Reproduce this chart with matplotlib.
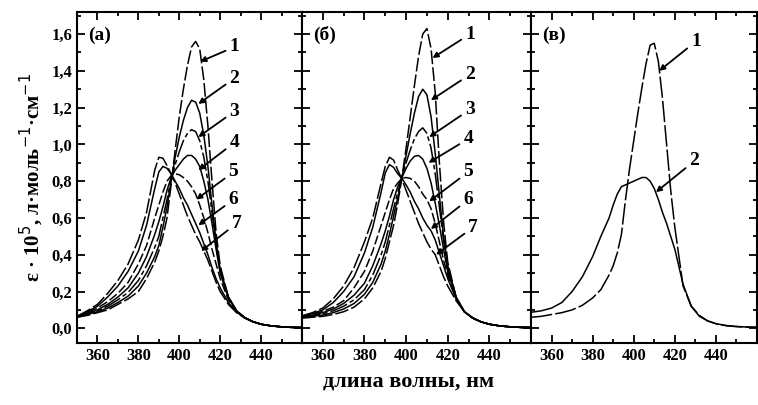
import matplotlib
matplotlib.use("Agg")
import matplotlib.pyplot as plt
from matplotlib.ticker import MultipleLocator, FuncFormatter

plt.rcParams['font.family'] = ['Liberation Serif', 'DejaVu Serif']

# wavelength grid, nm
wl = [350, 355, 360, 365, 370, 375, 380, 384, 388, 390, 392, 394, 396, 398, 400, 402, 404,
      406, 408, 410, 412, 414, 416, 418, 420, 424, 428, 432, 436, 440, 445, 450, 455, 460]

# panel (a), curves 1..7  (epsilon * 1e-5)
a1 = [0.060, 0.070, 0.085, 0.100, 0.130, 0.160, 0.200, 0.270, 0.360, 0.420, 0.500, 0.600, 0.780, 0.970, 1.150, 1.300, 1.430,
      1.530, 1.560, 1.520, 1.350, 1.100, 0.800, 0.520, 0.340, 0.170, 0.095, 0.058, 0.036, 0.022, 0.013, 0.008, 0.005, 0.004]
a2 = [0.060, 0.075, 0.090, 0.110, 0.140, 0.175, 0.230, 0.300, 0.390, 0.450, 0.550, 0.660, 0.800, 0.930, 1.040, 1.130, 1.200,
      1.240, 1.230, 1.170, 1.050, 0.880, 0.670, 0.470, 0.320, 0.170, 0.095, 0.058, 0.036, 0.022, 0.013, 0.008, 0.005, 0.004]
a3 = [0.062, 0.080, 0.095, 0.120, 0.155, 0.195, 0.260, 0.340, 0.440, 0.500, 0.600, 0.700, 0.810, 0.890, 0.960, 1.020, 1.060,
      1.080, 1.070, 1.020, 0.930, 0.800, 0.630, 0.450, 0.310, 0.170, 0.095, 0.058, 0.036, 0.022, 0.013, 0.008, 0.005, 0.004]
a4 = [0.063, 0.083, 0.100, 0.130, 0.170, 0.220, 0.300, 0.390, 0.510, 0.580, 0.660, 0.750, 0.820, 0.860, 0.890, 0.920, 0.940,
      0.940, 0.920, 0.880, 0.800, 0.700, 0.570, 0.430, 0.300, 0.165, 0.095, 0.058, 0.036, 0.022, 0.013, 0.008, 0.005, 0.004]
a5 = [0.064, 0.087, 0.110, 0.145, 0.190, 0.250, 0.350, 0.450, 0.600, 0.670, 0.740, 0.800, 0.830, 0.840, 0.835, 0.820, 0.800,
      0.770, 0.730, 0.670, 0.600, 0.520, 0.430, 0.350, 0.270, 0.155, 0.090, 0.057, 0.036, 0.022, 0.013, 0.008, 0.005, 0.004]
a6 = [0.065, 0.090, 0.120, 0.170, 0.230, 0.310, 0.420, 0.560, 0.760, 0.850, 0.880, 0.870, 0.840, 0.800, 0.760, 0.710, 0.670,
      0.620, 0.570, 0.520, 0.460, 0.400, 0.330, 0.270, 0.220, 0.140, 0.088, 0.057, 0.036, 0.022, 0.013, 0.008, 0.005, 0.004]
a7 = [0.065, 0.095, 0.130, 0.190, 0.260, 0.350, 0.480, 0.630, 0.860, 0.930, 0.925, 0.885, 0.840, 0.790, 0.730, 0.670, 0.610,
      0.560, 0.510, 0.470, 0.420, 0.370, 0.310, 0.250, 0.200, 0.130, 0.085, 0.055, 0.035, 0.022, 0.013, 0.008, 0.005, 0.004]

# panel (б), curves 1..7
b1 = [0.055, 0.060, 0.065, 0.075, 0.090, 0.115, 0.160, 0.220, 0.310, 0.380, 0.470, 0.560, 0.680, 0.820, 0.980, 1.150, 1.320,
      1.480, 1.600, 1.630, 1.520, 1.280, 0.900, 0.580, 0.360, 0.170, 0.090, 0.056, 0.035, 0.022, 0.013, 0.008, 0.005, 0.004]
b2 = [0.058, 0.065, 0.072, 0.085, 0.105, 0.135, 0.185, 0.250, 0.350, 0.420, 0.510, 0.610, 0.710, 0.820, 0.940, 1.060, 1.170,
      1.260, 1.300, 1.270, 1.150, 0.950, 0.720, 0.500, 0.340, 0.170, 0.090, 0.056, 0.035, 0.022, 0.013, 0.008, 0.005, 0.004]
b3 = [0.060, 0.068, 0.078, 0.095, 0.120, 0.155, 0.210, 0.290, 0.400, 0.470, 0.560, 0.650, 0.740, 0.820, 0.900, 0.970, 1.030,
      1.070, 1.090, 1.060, 0.980, 0.840, 0.660, 0.480, 0.330, 0.170, 0.090, 0.056, 0.035, 0.022, 0.013, 0.008, 0.005, 0.004]
b4 = [0.062, 0.072, 0.085, 0.105, 0.135, 0.180, 0.245, 0.340, 0.460, 0.530, 0.610, 0.700, 0.770, 0.820, 0.870, 0.910, 0.935,
      0.940, 0.920, 0.870, 0.790, 0.680, 0.560, 0.430, 0.310, 0.165, 0.090, 0.056, 0.035, 0.022, 0.013, 0.008, 0.005, 0.004]
b5 = [0.064, 0.076, 0.092, 0.115, 0.150, 0.220, 0.310, 0.420, 0.560, 0.630, 0.700, 0.760, 0.790, 0.815, 0.820, 0.815, 0.800,
      0.770, 0.730, 0.700, 0.650, 0.570, 0.470, 0.370, 0.290, 0.160, 0.090, 0.056, 0.035, 0.022, 0.013, 0.008, 0.005, 0.004]
b6 = [0.066, 0.080, 0.100, 0.140, 0.200, 0.280, 0.410, 0.550, 0.740, 0.845, 0.890, 0.875, 0.840, 0.815, 0.780, 0.740, 0.690,
      0.650, 0.600, 0.560, 0.530, 0.480, 0.410, 0.340, 0.270, 0.160, 0.090, 0.056, 0.035, 0.022, 0.013, 0.008, 0.005, 0.004]
b7 = [0.068, 0.085, 0.110, 0.160, 0.230, 0.330, 0.470, 0.600, 0.790, 0.880, 0.930, 0.915, 0.860, 0.810, 0.750, 0.690, 0.630,
      0.570, 0.520, 0.470, 0.430, 0.400, 0.340, 0.280, 0.230, 0.150, 0.090, 0.056, 0.035, 0.022, 0.013, 0.008, 0.005, 0.004]

# panel (в), curves 1..2
c1 = [0.060, 0.065, 0.075, 0.085, 0.100, 0.125, 0.165, 0.210, 0.290, 0.340, 0.410, 0.510, 0.700, 0.870, 1.020, 1.170, 1.310,
      1.440, 1.540, 1.550, 1.450, 1.250, 1.000, 0.750, 0.550, 0.230, 0.120, 0.070, 0.040, 0.025, 0.014, 0.009, 0.006, 0.005]
c2 = [0.087, 0.095, 0.110, 0.140, 0.200, 0.280, 0.390, 0.500, 0.600, 0.670, 0.730, 0.770, 0.780, 0.790, 0.800, 0.810, 0.820,
      0.820, 0.800, 0.760, 0.700, 0.630, 0.570, 0.500, 0.430, 0.240, 0.120, 0.065, 0.040, 0.025, 0.015, 0.010, 0.007, 0.006]

panels = [
    ("(a)", [a1, a2, a3, a4, a5, a6, a7]),
    ("(б)", [b1, b2, b3, b4, b5, b6, b7]),
    ("(в)", [c1, c2]),
]

# curve labels: (text position, arrow tip) in data coords
labels_a = [((424.6, 1.53), (410.2, 1.45)), ((424.6, 1.36), (409.3, 1.22)), ((424.6, 1.18), (409.3, 1.04)),
            ((424.6, 1.01), (409.3, 0.86)), ((424.1, 0.85), (408.3, 0.70)), ((424.1, 0.70), (409.3, 0.56)),
            ((425.6, 0.57), (410.7, 0.42))]
labels_b = [((428.4, 1.60), (412.7, 1.47)), ((428.3, 1.38), (411.9, 1.24)), ((428.3, 1.19), (411.1, 1.04)),
            ((427.5, 1.03), (410.8, 0.90)), ((427.5, 0.85), (411.1, 0.69)), ((427.5, 0.70), (411.9, 0.54)),
            ((429.9, 0.55), (414.4, 0.40))]
labels_c = [((427.9, 1.56), (412.4, 1.40)), ((427.1, 0.91), (410.8, 0.74))]
all_labels = [labels_a, labels_b, labels_c]

styles = [(0, (9, 2)), '-', (0, (12, 2, 3, 2)), '-', (0, (6, 2)), '-', (0, (10, 2))]

fig = plt.figure(figsize=(7.58, 4.05), dpi=100)
lefts = [77, 302, 531]
rights = [302, 531, 757]
bottom, top = 343, 12
W, H = 758, 405

for i, (tag, curves) in enumerate(panels):
    ax = fig.add_axes([lefts[i] / W, 1 - bottom / H, (rights[i] - lefts[i]) / W, (bottom - top) / H])
    for k, y in enumerate(curves):
        ls = styles[k] if i < 2 else ((0, (14, 2)) if k == 0 else '-')
        ax.plot(wl, y, color='black', lw=1.1, ls=ls)

    for k, (txt, tip) in enumerate(all_labels[i]):
        ax.annotate(str(k + 1), xy=tip, xytext=txt, fontsize=14, fontweight='bold',
                    ha='left', va='center',
                    arrowprops=dict(arrowstyle='-|>', color='black', lw=1.3,
                                    mutation_scale=8, shrinkA=1, shrinkB=0))

    ax.text(0.05, 0.93, tag, transform=ax.transAxes, fontsize=14, fontweight='bold',
            ha='left', va='center')

    ax.set_xlim(350, 460)
    ax.set_ylim(-0.08, 1.72)
    ax.xaxis.set_minor_locator(MultipleLocator(10))
    ax.yaxis.set_major_locator(MultipleLocator(0.2))
    ax.yaxis.set_minor_locator(MultipleLocator(0.1))
    ax.set_xticks([360, 380, 400, 420, 440])
    ax.tick_params(which='both', direction='in', top=True, right=True, width=1.3)
    ax.tick_params(which='major', length=6)
    ax.tick_params(which='minor', length=3)
    ax.tick_params(axis='both', labelsize=12)
    for lab in ax.get_xticklabels():
        lab.set_fontweight('bold')
    for sp in ax.spines.values():
        sp.set_linewidth(1.5)
    if i == 0:
        ax.yaxis.set_major_formatter(FuncFormatter(lambda v, p: ("%.1f" % v).replace('.', ',')))
        for lab in ax.get_yticklabels():
            lab.set_fontweight('bold')
        ax.set_ylabel(r"ε · 10$^5$, л·моль$^{-1}$·см$^{-1}$", fontsize=15, fontweight='bold', labelpad=4)
    else:
        ax.set_yticklabels([])

fig.text(409 / W, 1 - 381 / H, "длина волны, нм", fontsize=16, fontweight='bold',
         ha='center', va='center')

fig.savefig("out.png", dpi=100)
